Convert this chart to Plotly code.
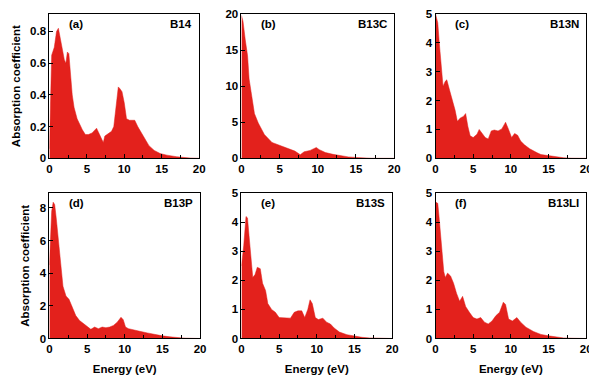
import plotly.graph_objects as go

# ---- data (Energy in eV, absorption coefficient) ----
x_a = [0, 0.15, 0.3, 0.65, 0.95, 1.2, 1.5, 1.75, 2.0, 2.2, 2.4, 2.6, 2.85, 3.05, 3.3, 3.7, 4.4, 4.8, 5.2, 5.7, 6.3, 6.6, 7.0, 7.2, 7.4, 7.9, 8.3, 8.6, 9.0, 9.2, 9.4, 9.7, 10.0, 10.3, 10.7, 11.4, 11.8, 12.2, 12.7, 13.3, 14.0, 14.8, 15.7, 17.0, 18.8, 20]
y_a = [0.06, 0.4, 0.65, 0.70, 0.80, 0.82, 0.75, 0.70, 0.62, 0.60, 0.67, 0.66, 0.50, 0.40, 0.32, 0.25, 0.18, 0.15, 0.15, 0.16, 0.19, 0.16, 0.12, 0.10, 0.14, 0.16, 0.17, 0.20, 0.35, 0.45, 0.44, 0.42, 0.35, 0.25, 0.24, 0.24, 0.20, 0.17, 0.13, 0.08, 0.05, 0.03, 0.02, 0.01, 0.002, 0]

x_b = [0, 0.2, 0.5, 0.8, 1.0, 1.3, 1.7, 2.2, 3, 4, 5, 6, 7, 7.7, 8.2, 9, 9.8, 10.2, 11, 12, 13, 14, 15, 16, 17, 20]
y_b = [19.8, 19.0, 16.4, 14.2, 11.0, 8.8, 6.2, 4.9, 3.3, 2.2, 1.8, 1.3, 1.0, 0.5, 0.9, 1.1, 1.5, 1.2, 0.8, 0.55, 0.35, 0.2, 0.12, 0.05, 0.01, 0]

x_c = [0, 0.3, 0.5, 0.8, 1.0, 1.3, 1.5, 1.9, 2.3, 2.6, 2.9, 3.3, 3.7, 4.0, 4.3, 4.6, 5.0, 5.5, 5.8, 6.2, 6.6, 7.0, 7.4, 7.8, 8.3, 8.8, 9.3, 9.7, 10.1, 10.5, 10.9, 11.3, 11.8, 12.5, 13, 13.5, 14, 15, 16, 17, 18, 20]
y_c = [5.0, 4.7, 4.0, 3.0, 2.5, 2.67, 2.72, 2.33, 2.0, 1.67, 1.28, 1.4, 1.45, 1.55, 1.1, 0.78, 0.72, 0.83, 1.0, 0.86, 0.72, 0.67, 0.95, 0.98, 0.95, 1.02, 1.25, 1.0, 0.72, 0.86, 0.8, 0.6, 0.47, 0.33, 0.25, 0.19, 0.13, 0.09, 0.05, 0.02, 0.005, 0]

x_d = [0, 0.3, 0.5, 0.7, 0.9, 1.2, 1.5, 1.8, 2.2, 2.6, 3.0, 3.5, 4.0, 4.5, 5, 5.5, 6, 6.5, 7, 7.5, 8, 8.5, 9.0, 9.5, 9.8, 10.1, 10.5, 11, 12, 13, 14, 15, 16, 17, 18, 20]
y_d = [4.5, 7.8, 8.35, 8.2, 7.4, 5.8, 4.6, 3.2, 2.6, 2.4, 1.9, 1.4, 1.1, 0.9, 0.7, 0.56, 0.7, 0.6, 0.7, 0.66, 0.7, 0.8, 1.0, 1.3, 1.15, 0.7, 0.6, 0.56, 0.44, 0.34, 0.24, 0.16, 0.1, 0.06, 0.02, 0]

x_e = [0, 0.3, 0.6, 0.8, 1.0, 1.3, 1.5, 1.8, 2.1, 2.5, 2.8, 3.2, 3.5, 4.0, 4.5, 5.0, 5.5, 6.0, 6.5, 7.0, 7.5, 8.0, 8.4, 8.8, 9.1, 9.4, 9.8, 10.2, 10.8, 11.3, 11.8, 12.3, 13, 14, 15, 16, 17, 18, 20]
y_e = [2.5, 3.2, 4.2, 4.15, 3.55, 2.8, 2.1, 2.2, 2.45, 2.4, 1.9, 1.65, 1.2, 1.0, 0.9, 0.72, 0.72, 0.72, 0.7, 0.9, 0.95, 0.95, 0.72, 1.0, 1.33, 1.2, 0.72, 0.65, 0.7, 0.56, 0.5, 0.36, 0.22, 0.13, 0.08, 0.04, 0.02, 0.005, 0]

x_f = [0, 0.3, 0.5, 0.8, 1.1, 1.3, 1.6, 2.0, 2.4, 2.8, 3.2, 3.6, 4.0, 4.5, 5.0, 5.5, 6.0, 6.5, 7.0, 7.5, 8.0, 8.5, 9.0, 9.3, 9.7, 10.2, 10.8, 11.3, 12, 13, 14, 15, 16, 17, 18, 20]
y_f = [4.7, 4.65, 4.1, 3.2, 2.3, 2.1, 2.25, 2.15, 1.9, 1.55, 1.28, 1.45, 1.1, 0.9, 0.72, 0.67, 0.72, 0.56, 0.5, 0.6, 0.78, 0.9, 1.25, 1.17, 0.67, 0.6, 0.72, 0.56, 0.39, 0.24, 0.14, 0.09, 0.05, 0.02, 0.01, 0]

labels = ["(a)", "(b)", "(c)", "(d)", "(e)", "(f)"]
names = ["B14", "B13C", "B13N", "B13P", "B13S", "B13LI"]
y_ranges = [[0, 0.91], [0, 20], [0, 5], [0, 8.9], [0, 5], [0, 5]]
y_dticks = [0.2, 5, 1, 2, 1, 1]
x_ticks = [0, 5, 10, 15, 20]

series = [(x_a, y_a), (x_b, y_b), (x_c, y_c), (x_d, y_d), (x_e, y_e), (x_f, y_f)]

# ---- layout geometry (screen pixels; page body has an 8px margin) ----
W, H = 597, 382
OFF = 8
cols_px = [[(47, 199), (242, 397), (439, 592)], [(47, 200), (242, 395), (439, 592)]]
rows_px = [(8, 157), (193, 343)]

RED = "#e3211c"
FONT = "Liberation Sans"
tickfont = dict(family=FONT, size=11.5, color="black", weight="bold")
titlefont = dict(family=FONT, size=11.5, color="black", weight="bold")

fig = go.Figure()
layout = dict(width=W, height=H, margin=dict(l=0, r=0, t=0, b=0),
              paper_bgcolor="white", plot_bgcolor="white", showlegend=False,
              annotations=[])

for i, (xs, ys) in enumerate(series):
    r, c = divmod(i, 3)
    n = i + 1
    xa = "x" if n == 1 else f"x{n}"
    ya = "y" if n == 1 else f"y{n}"
    fig.add_trace(go.Scatter(x=xs, y=ys, mode="lines", fill="tozeroy",
                             fillcolor=RED, line=dict(color=RED, width=0.5),
                             xaxis=xa, yaxis=ya, hoverinfo="skip"))
    x0, x1 = [v - OFF for v in cols_px[r][c]]
    y0, y1 = [max(0, v - OFF) for v in rows_px[r]]
    layout[f"xaxis{'' if n == 1 else n}"] = dict(
        domain=[x0 / W, x1 / W], anchor=ya, range=[0, 20],
        tickvals=x_ticks, ticks="inside", ticklen=4, tickcolor="black",
        minor=dict(tickvals=[2.5, 7.5, 12.5, 17.5], ticks="inside", ticklen=3, tickcolor="black"),
        showline=True, linecolor="black", linewidth=1, mirror=True,
        showgrid=False, zeroline=False, tickfont=tickfont,
        title=dict(text="Energy (eV)" if r == 1 else "", font=titlefont, standoff=10))
    layout[f"yaxis{'' if n == 1 else n}"] = dict(
        domain=[1 - y1 / H, 1 - y0 / H], anchor=xa, range=y_ranges[i],
        dtick=y_dticks[i], tick0=0, ticks="inside", ticklen=4, tickcolor="black",
        showline=True, linecolor="black", linewidth=1, mirror=True,
        showgrid=False, zeroline=False, tickfont=tickfont,
        title=dict(text="Absorption coefficient" if c == 0 else "", font=titlefont, standoff=7))
    layout["annotations"].append(dict(
        text=labels[i], x=(x0 + 18) / W, y=1 - (y0 + 2) / H, xref="paper", yref="paper",
        xanchor="left", yanchor="top", showarrow=False, font=titlefont))
    layout["annotations"].append(dict(
        text=names[i], x=(x1 - 5) / W, y=1 - (y0 + 2) / H, xref="paper", yref="paper",
        xanchor="right", yanchor="top", showarrow=False, font=titlefont))

fig.update_layout(**layout)
fig.write_html("out.html")
